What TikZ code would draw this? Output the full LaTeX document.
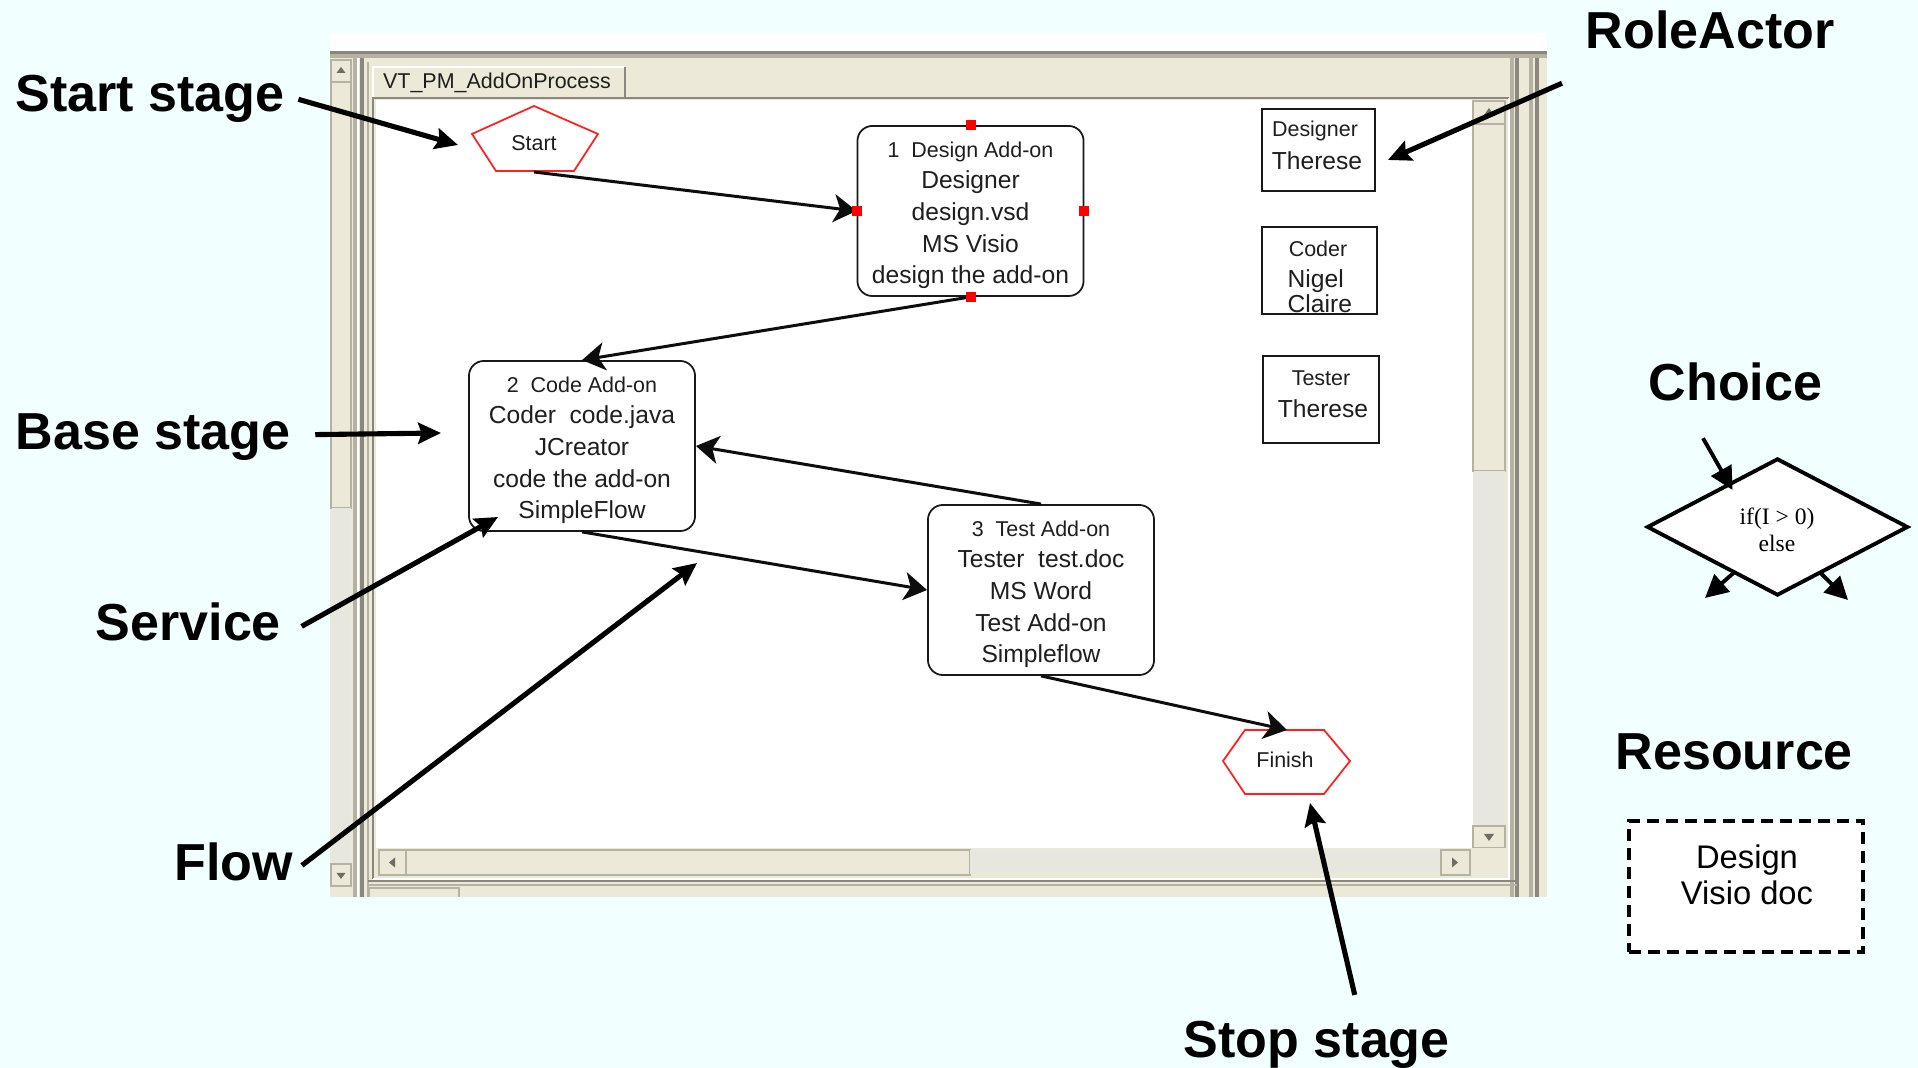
\documentclass[tikz,border=0pt]{standalone}
\usepackage{fontspec}
\setmainfont{Liberation Sans}
\newfontfamily\seriffam{Liberation Serif}
\usetikzlibrary{arrows.meta,calc,shapes.geometric}
\definecolor{pagebg}{HTML}{F2FFFF}
\definecolor{beige}{HTML}{ECE9D8}
\definecolor{frdark}{HTML}{8A887E}
\definecolor{frmid}{HTML}{B5B2A4}
\definecolor{hatch}{HTML}{E7E6DF}
\definecolor{scrtxt}{HTML}{1E1E1E}
\definecolor{xpred}{HTML}{FF2020}
\newcommand{\firstln}[1]{{\fontsize{6.1}{9}\selectfont\rule{0pt}{6.8pt}#1}}
\tikzset{
  bigtag/.style={font=\fontsize{14.8}{17}\selectfont\bfseries, inner sep=0pt, anchor=base west},
  stagebox/.style={draw=black!90, line width=0.5pt, rounded corners=0.15cm, fill=white,
    minimum width=2.26cm, minimum height=1.70cm, align=center, text=scrtxt,
    font=\fontsize{7}{9}\selectfont, inner sep=0pt},
  smalltxt/.style={font=\fontsize{6.1}{8.5}\selectfont, text=scrtxt, inner sep=0pt, align=center},
  roletxt/.style={font=\fontsize{7}{8.5}\selectfont, text=scrtxt, inner sep=0pt, align=center},
  rolebox/.style={draw=black!90, line width=0.6pt, inner sep=0pt, fill=white},
  flowline/.style={line width=0.85pt, draw=black!95, -{Stealth[length=6.5pt,width=8pt,inset=1.8pt]}},
  annot/.style={line width=1.45pt, -{Stealth[length=6.5pt,width=6pt,inset=1pt]}},
  choicearrow/.style={line width=1.1pt, -{Triangle[length=6.5pt,width=6.5pt]}},
  stagemark/.style={fill=red, draw=none, inner sep=0pt, minimum size=0.1cm},
  stopshape/.style={draw=xpred, line width=0.5pt},
  panelbtn/.style={draw=frmid, fill=beige, line width=0.5pt},
  arrowglyph/.style={fill=frdark!80!black}
}
\begin{document}
\begin{tikzpicture}[x=0.01cm,y=-0.01cm]
\useasboundingbox (0,0) rectangle (1918,1068);
\fill[pagebg] (0,0) rectangle (1918,1068);

% ---------- screenshot panel ----------
\fill[white] (330,33) rectangle (1547,897);
\fill[beige] (330,51) rectangle (1547,897);
\fill[frdark] (330,51) rectangle (1547,54);
\fill[frmid] (330,54) rectangle (1547,58);

% left scrollbar
\draw[panelbtn] (331,60) rectangle (351,82);
\fill[arrowglyph] (341,67) -- (345.5,73) -- (336.5,73) -- cycle;
\draw[panelbtn] (331,82) rectangle (351,508);
\fill[hatch] (331.5,508) rectangle (350.5,864);
\draw[panelbtn] (331,864) rectangle (351,886);
\fill[arrowglyph] (341,879) -- (345.5,873) -- (336.5,873) -- cycle;

% frame lines left
\draw[frmid,line width=0.9pt] (355,58) -- (355,897);
\draw[white,line width=0.6pt] (358,58) -- (358,897);
\draw[frdark,line width=0.9pt] (362,58) -- (362,897);
\draw[frmid,line width=0.6pt] (368,62) -- (368,897);

% tab
\fill[beige] (372,66) rectangle (625,97);
\draw[white,line width=0.8pt] (373,97) -- (373,67) -- (624,67);
\draw[frdark,line width=0.8pt] (625,67) -- (625,97);
\node[smalltxt] (tab) at (497,83) {VT\_PM\_AddOnProcess};

% canvas frame
\draw[frdark,line width=0.8pt] (373,879) -- (373,98) -- (1509,98);
\draw[white,line width=0.8pt] (1509,98) -- (1509,879) -- (373,879);
\fill[white] (376,100) rectangle (1473,848);

% right scrollbar
\draw[panelbtn] (1473,101) rectangle (1505,124);
\fill[arrowglyph] (1489,108) -- (1494,115) -- (1484,115) -- cycle;
\draw[panelbtn] (1473,124) rectangle (1505,471);
\fill[hatch] (1473.5,471) rectangle (1504.5,826);
\draw[panelbtn] (1473,826) rectangle (1505,848);
\fill[arrowglyph] (1489,841) -- (1494,834) -- (1484,834) -- cycle;

% horizontal scrollbar
\fill[beige] (376,848) rectangle (1508,877);
\draw[panelbtn] (379,850) rectangle (406,875);
\fill[arrowglyph] (389,862.5) -- (395,857.5) -- (395,867.5) -- cycle;
\draw[panelbtn] (406,850) rectangle (970,875);
\fill[hatch] (970,850.5) rectangle (1441,874.5);
\draw[panelbtn] (1441,850) rectangle (1470,875);
\fill[arrowglyph] (1458,862.5) -- (1452,857.5) -- (1452,867.5) -- cycle;

% outer right lines
\draw[frmid,line width=0.9pt] (1512,58) -- (1512,897);
\draw[frdark,line width=0.9pt] (1517,58) -- (1517,897);
\draw[frmid,line width=0.9pt] (1531,58) -- (1531,897);
\draw[frdark,line width=0.9pt] (1537,58) -- (1537,897);
% bottom lines and cut-off tab
\draw[frdark,line width=0.8pt] (368,881) -- (1517,881);
\draw[frmid,line width=0.8pt] (368,885) -- (1517,885);
\draw[frmid,line width=0.7pt] (369,897) -- (369,888) -- (459,888) -- (459,897);

% ---------- process diagram ----------
\draw[stopshape] (534,106) -- (598,134) -- (574,171) -- (496,171) -- (472,134) -- cycle;
\node[smalltxt] (start) at (534,143) {Start};
\coordinate (startb) at (534,172);

\node[stagebox] (b1) at (970.5,211)
  {\firstln{1\ \ Design Add-on}\\Designer\\design.vsd\\MS Visio\\design the add-on};
\node[stagebox] (b2) at (582,446)
  {\firstln{2\ \ Code Add-on}\\Coder\ \ code.java\\JCreator\\code the add-on\\SimpleFlow};
\node[stagebox] (b3) at (1041,590)
  {\firstln{3\ \ Test Add-on}\\Tester\ \ test.doc\\MS Word\\Test Add-on\\Simpleflow};

\draw[stopshape] (1223,761) -- (1245,730) -- (1324,730) -- (1350,761) -- (1324,794) -- (1245,794) -- cycle;
\node[smalltxt] (finish) at (1285,760) {Finish};
\coordinate (fintop) at (1287,730);

\draw[flowline] (startb) -- (b1.west);
\draw[flowline] (b1.south) -- (b2.north);
\draw[flowline] (b3.north) -- (b2.east);
\draw[flowline] (b2.south) -- (b3.west);
\draw[flowline] (b3.south) -- (fintop);

\node[stagemark] (m1) at (b1.north) {};
\node[stagemark] (m2) at (b1.south) {};
\node[stagemark] (m3) at (b1.west) {};
\node[stagemark] (m4) at (b1.east) {};

% role actors
\node[rolebox, minimum width=1.13cm, minimum height=0.82cm] (r1) at (1318.5,150) {};
\node[smalltxt] (r1a) at (1315,131) {Designer};
\node[roletxt] (r1b) at (1317,161) {Therese};
\node[rolebox, minimum width=1.15cm, minimum height=0.87cm] (r2) at (1319.5,270.5) {};
\node[smalltxt] (r2a) at (1318,249) {Coder};
\node[roletxt, anchor=west] (r2b) at (1287,281) {Nigel};
\node[roletxt, anchor=west] (r2c) at (1287,304) {Claire};
\node[rolebox, minimum width=1.16cm, minimum height=0.87cm] (r3) at (1321,399.5) {};
\node[smalltxt] (r3a) at (1321,378) {Tester};
\node[roletxt] (r3b) at (1323,409) {Therese};

% ---------- legend shapes ----------
\node[draw, shape=diamond, line width=1.1pt, fill=white, minimum width=2.61cm,
      minimum height=1.37cm, inner sep=0pt] (dia) at (1777.5,527) {};
\node[font=\seriffam\fontsize{6.7}{7.6}\selectfont, align=center, inner sep=0pt] (diat) at (1777,530) {if(I > 0)\\else};
\coordinate (dl) at (1705,598);
\coordinate (dr) at (1848,600);
\draw[choicearrow] ($(dia.center)+(-44,46)$) -- (dl);
\draw[choicearrow] ($(dia.center)+(43,46)$) -- (dr);

\node[draw, line width=1.1pt, dash pattern=on 3.4pt off 2pt, fill=white,
      minimum width=2.34cm, minimum height=1.31cm, inner sep=0pt] (res) at (1746,886.5) {};
\node[font=\fontsize{9.3}{10.2}\selectfont, align=center, inner sep=0pt] (rest) at (1747,875) {Design\\Visio doc};

% ---------- annotation labels ----------
\node[bigtag] (lstart) at (15,112) {Start stage};
\node[bigtag] (lbase) at (15,450) {Base stage};
\node[bigtag] (lserv) at (95,641) {Service};
\node[bigtag] (lflow) at (174,881) {Flow};
\node[bigtag] (lrole) at (1585,49) {RoleActor};
\node[bigtag] (lchoice) at (1648,401) {Choice};
\node[bigtag] (lres) at (1615,770) {Resource};
\node[bigtag] (lstop) at (1183,1058) {Stop stage};

\coordinate (tstart) at (458,145);
\coordinate (tbase) at (441,433);
\coordinate (tserv) at (498,517);
\coordinate (tflow) at (697,563);
\coordinate (trole) at (1388,160);
\coordinate (tstop) at (1310,803);

\draw[annot] ($(lstart.east)+(13,0)$) -- (tstart);
\draw[annot] ($(lbase.east)+(24,-3)$) -- (tbase);
\draw[annot] ($(lserv.east)+(20,4)$) -- (tserv);
\draw[annot] ($(lflow.east)+(8,3)$) -- (tflow);
\draw[annot] ($(lrole.south west)+(-23,33)$) -- (trole);
\draw[annot] ($(lstop.north)+(38,-26)$) -- (tstop);
\draw[choicearrow] ($(lchoice.south west)+(55,36)$) -- ($(dia.center)+(-45,-37)$);
\end{tikzpicture}
\end{document}
